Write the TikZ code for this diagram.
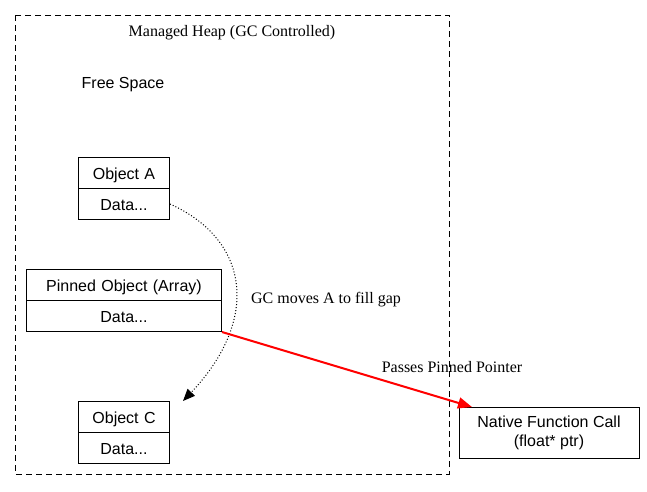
\documentclass[tikz,border=0pt]{standalone}
\usepackage{fontspec}
\setmainfont{Liberation Serif}
\newfontfamily\arialf{Liberation Sans}
\usetikzlibrary{shapes.multipart,arrows.meta}
\begin{document}
\begin{tikzpicture}[x=1pt,y=-1pt,
  rec/.style={draw,line width=1pt,rectangle split,rectangle split parts=2,inner sep=0pt,font=\arialf\fontsize{16}{19}\selectfont},
  lab/.style={font=\fontsize{16}{19}\selectfont}]
\useasboundingbox (0,0) rectangle (647,491);
\draw[dashed,line width=1pt,dash pattern=on 6pt off 4pt] (15,15) rectangle (449,474);
\node[lab] (t) at (232,33) {Managed Heap (GC Controlled)};
\node[font=\arialf\fontsize{16}{19}\selectfont] (fs) at (123,85) {Free Space};
\node[rec,minimum width=91pt,text width=91pt,align=center,anchor=north west] (a) at (78,157) {\rule[-9pt]{0pt}{30pt}Object A\nodepart{two}\rule[-9pt]{0pt}{30pt}Data...};
\node[rec,minimum width=195pt,text width=195pt,align=center,anchor=north west] (p) at (26,269) {\rule[-9pt]{0pt}{30pt}Pinned Object (Array)\nodepart{two}\rule[-9pt]{0pt}{30pt}Data...};
\node[rec,minimum width=91pt,text width=91pt,align=center,anchor=north west] (c) at (78,401) {\rule[-9pt]{0pt}{30pt}Object C\nodepart{two}\rule[-9pt]{0pt}{30pt}Data...};
\node[draw,line width=1pt,minimum width=180pt,minimum height=51pt,align=center,inner sep=0pt,font=\arialf\fontsize{16}{19}\selectfont] (n) at (549,432.5) {Native Function Call\\(float* ptr)};
\coordinate (ce) at (183,401);
\coordinate (ne) at (472,407);
\draw[dotted,line width=1pt,-{Triangle[length=12pt,width=10pt]}] (a.two east) .. controls (250,240) and (260,320) .. (ce);
\node[lab] (g) at (326,300) {GC moves A to fill gap};
\draw[red,line width=2pt,-{Triangle[length=14pt,width=11pt]}] (p.south east) -- (ne);
\node[lab] (pp) at (452,367) {Passes Pinned Pointer};
\end{tikzpicture}
\end{document}
